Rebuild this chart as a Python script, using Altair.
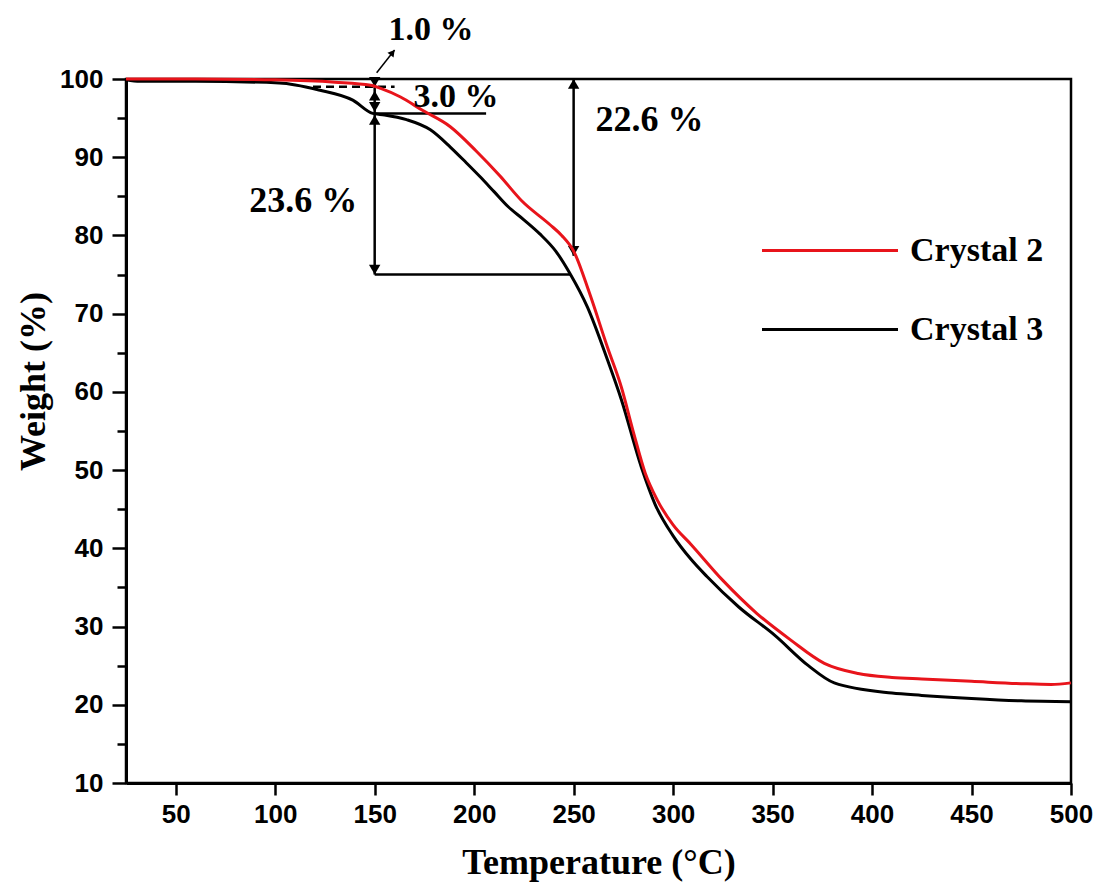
import altair as alt
import pandas as pd

# ---- data ----
series_names = ["Crystal 2", "Crystal 3"]
series_colors = ["#e8141b", "#000000"]

c2_temp = [25, 60, 100, 130, 148, 153, 163, 174, 188, 201, 213, 224, 238, 244, 250, 258,
           267, 274, 280, 286, 292, 300, 309, 325, 342, 359, 376, 393, 410, 425, 450, 475, 490, 500]
c2_weight = [100, 100, 99.9, 99.6, 99.2, 98.8, 97.7, 96.0, 93.9, 90.8, 87.6, 84.4, 81.4, 80.0,
             78.0, 72.6, 65.7, 60.6, 54.9, 49.6, 46.2, 43.0, 40.5, 35.9, 31.7, 28.3, 25.3, 24.0,
             23.5, 23.3, 23.0, 22.7, 22.6, 22.8]

c3_temp = [25, 32, 60, 102, 122, 139, 149, 155, 166, 178, 188, 196, 203, 210, 217, 225, 233,
           241, 248, 257, 267, 274, 284, 291, 300, 309, 317, 333, 351, 368, 381, 410, 425, 450,
           475, 500]
c3_weight = [99.9, 99.7, 99.7, 99.5, 98.6, 97.3, 95.6, 95.4, 94.8, 93.5, 91.3, 89.3, 87.5, 85.6,
             83.7, 82.0, 80.2, 78.0, 75.2, 70.8, 64.1, 59.0, 50.4, 45.6, 41.6, 38.6, 36.4, 32.5,
             28.9, 25.0, 22.8, 21.5, 21.2, 20.8, 20.5, 20.4]

x_ticks = [50, 100, 150, 200, 250, 300, 350, 400, 450, 500]
y_ticks = [10, 20, 30, 40, 50, 60, 70, 80, 90, 100]
y_minor = [15, 25, 35, 45, 55, 65, 75, 85, 95]

# annotation geometry (data units)
seg_t1 = [150, 250, 150, 150]
seg_t2 = [150, 250, 206, 248.5]
seg_w1 = [100, 100, 95.6, 75]
seg_w2 = [75, 77.4, 95.6, 75]

dash_t1, dash_t2, dash_w = [119], [160], [99]

diag_t1, diag_t2, diag_w1, diag_w2 = [151], [160], [100.8], [103.7]

head_up_t = [250, 150, 150]
head_up_w = [100, 98.5, 95.4]
head_dn_t = [250, 150, 150, 150]
head_dn_w = [77.4, 99.0, 95.8, 75]

label_text = ["1.0 %", "3.0 %", "22.6 %", "23.6 %"]
label_t = [157, 169.5, 261, 87]
label_w = [105.0, 96.4, 93.35, 83.0]
label_size = [34, 34, 36, 36]

# ---- tables ----
df = pd.concat([
    pd.DataFrame({"T": c2_temp, "W": c2_weight, "series": series_names[0]}),
    pd.DataFrame({"T": c3_temp, "W": c3_weight, "series": series_names[1]}),
], ignore_index=True)
segs = pd.DataFrame({"t1": seg_t1, "t2": seg_t2, "w1": seg_w1, "w2": seg_w2})
dash = pd.DataFrame({"t1": dash_t1, "t2": dash_t2, "w": dash_w})
diag = pd.DataFrame({"t1": diag_t1, "t2": diag_t2, "w1": diag_w1, "w2": diag_w2})
heads_up = pd.DataFrame({"t": head_up_t, "w": head_up_w})
heads_dn = pd.DataFrame({"t": head_dn_t, "w": head_dn_w})
labels = pd.DataFrame({"text": label_text, "t": label_t, "w": label_w, "size": label_size})

SANS = "Liberation Sans"
SERIF = "Liberation Serif"

xscale = alt.Scale(domain=[25, 500], nice=False, zero=False)
yscale = alt.Scale(domain=[10, 100], nice=False, zero=False)

x_axis = alt.Axis(values=x_ticks, tickSize=12, tickWidth=2.5, tickColor="black",
                  domainWidth=3, domainColor="black", grid=False,
                  labelFont=SANS, labelFontSize=26, labelFontWeight="bold", labelColor="black",
                  labelPadding=6, labelFlush=False, labelOverlap=False,
                  title="Temperature (°C)", titleFont=SERIF, titleFontSize=36,
                  titleFontWeight="bold", titleColor="black", titleY=90,
                  titleBaseline="alphabetic")
y_axis = alt.Axis(values=y_ticks, orient="left", tickSize=14, tickWidth=2.5, tickColor="black",
                  domainWidth=3, domainColor="black", grid=False,
                  labelFont=SANS, labelFontSize=26, labelFontWeight="bold", labelColor="black",
                  labelPadding=9, labelOverlap=False,
                  title="Weight (%)", titleFont=SERIF, titleFontSize=36, titleFontWeight="bold",
                  titleColor="black", titleAngle=270, titleX=-82, titleY=302,
                  titleBaseline="alphabetic", titleAlign="center")
y_minor_axis = alt.Axis(values=y_minor, orient="left", tickSize=9, tickWidth=2.5,
                        tickColor="black", domain=False, labels=False, grid=False, title=None)

color = alt.Color("series:N", scale=alt.Scale(domain=series_names, range=series_colors),
                  legend=alt.Legend(orient="none", legendX=685.5, legendY=153, title=None,
                                    symbolType="M-4,0H4", symbolSize=1156, symbolStrokeWidth=3,
                                    labelFont=SERIF, labelFontSize=34, labelFontWeight="bold",
                                    labelColor="black", labelOffset=61.5, rowPadding=43,
                                    padding=0, labelBaseline="middle"))


def X(field):
    return alt.X(field, scale=xscale, axis=x_axis)


def Ynone(field):
    return alt.Y(field, scale=yscale, axis=None)


base = alt.Chart(df)

minor = base.mark_line(opacity=0).encode(
    x=X("T:Q"),
    y=alt.Y("W:Q", scale=yscale, axis=y_minor_axis),
)

line3 = base.transform_filter(alt.datum.series == series_names[1]).mark_line(
    strokeWidth=3, interpolate="monotone").encode(
    x=X("T:Q"),
    y=alt.Y("W:Q", scale=yscale, axis=y_axis),
    color=color,
)
line2 = base.transform_filter(alt.datum.series == series_names[0]).mark_line(
    strokeWidth=3, interpolate="monotone").encode(
    x=X("T:Q"), y=Ynone("W:Q"), color=color,
)

seg_layer = alt.Chart(segs).mark_rule(color="black", strokeWidth=2.5, clip=False).encode(
    x=X("t1:Q"), x2="t2:Q", y=Ynone("w1:Q"), y2="w2:Q")

dash_layer = alt.Chart(dash).mark_rule(color="black", strokeWidth=2.5, strokeDash=[8, 5],
                                       clip=False).encode(
    x=X("t1:Q"), x2="t2:Q", y=Ynone("w:Q"))

diag_layer = alt.Chart(diag).mark_rule(color="black", strokeWidth=1.5, clip=False).encode(
    x=X("t1:Q"), x2="t2:Q", y=Ynone("w1:Q"), y2="w2:Q")

diag_head = alt.Chart(diag).mark_point(shape="triangle-up", filled=True, color="black",
                                       opacity=1, size=60, angle=38, xOffset=-2, yOffset=2.5,
                                       clip=False).encode(
    x=X("t2:Q"), y=Ynone("w2:Q"))

up_layer = alt.Chart(heads_up).mark_point(shape="triangle-up", filled=True, color="black",
                                          opacity=1, size=130, yOffset=4.9, clip=False).encode(
    x=X("t:Q"), y=Ynone("w:Q"))

dn_layer = alt.Chart(heads_dn).mark_point(shape="triangle-down", filled=True, color="black",
                                          opacity=1, size=130, yOffset=-4.9, clip=False).encode(
    x=X("t:Q"), y=Ynone("w:Q"))

text_layer = alt.Chart(labels).mark_text(font=SERIF, fontWeight="bold", color="black",
                                         align="left", baseline="alphabetic",
                                         clip=False).encode(
    x=X("t:Q"), y=Ynone("w:Q"),
    text="text:N",
    size=alt.Size("size:Q", scale=None, legend=None))

chart = alt.layer(
    minor, seg_layer, dash_layer, diag_layer, diag_head, up_layer, dn_layer,
    line3, line2, text_layer
).resolve_axis(y="independent").properties(
    width=945, height=704,
    autosize=alt.AutoSizeParams(type="none"),
    padding={"left": 118, "top": 71, "right": 23, "bottom": 99},
).configure(background="white").configure_view(stroke="black", strokeWidth=2.5)

chart.save("out.html", embed_options={"renderer": "svg", "actions": False})
